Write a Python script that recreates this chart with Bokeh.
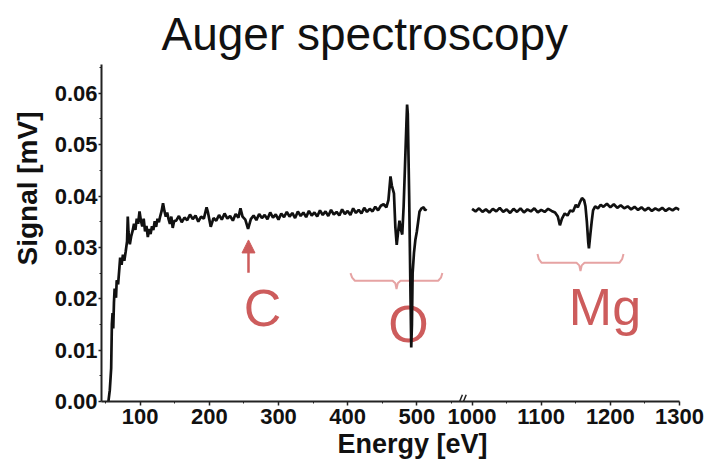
from bokeh.plotting import figure
from bokeh.models import (FixedTicker, Arrow, NormalHead, Range1d, Title,
                          NumeralTickFormatter)
from bokeh.core.properties import value
from bokeh.embed import file_html
from bokeh.resources import INLINE

# ---------------- data ----------------
energy = [
    54, 56, 58, 59, 60, 61, 62, 63, 65, 66, 68, 70, 71, 73, 75, 77, 79, 81, 82, 83,
    85, 87, 89, 91, 93, 95, 97, 99, 101, 103, 105, 107, 109, 111, 113, 115, 117, 119,
    121, 123, 125, 127, 129, 131, 133, 135, 137, 139, 141, 143, 145, 147, 149,
    152, 156, 160, 164, 168, 172, 176, 180, 184, 188, 192, 196, 198, 202, 206, 210,
    214, 218, 222, 226, 230, 234, 238, 242, 245, 248, 252, 256, 260, 264, 268, 272,
    276, 280, 284, 288, 292, 296, 300, 304, 308, 312, 316, 320, 324, 328, 332, 336,
    340, 344, 348, 352, 356, 360, 364, 368, 372, 376, 380, 384, 388, 392, 396, 400,
    404, 408, 412, 416, 420, 424, 428, 432, 436, 440, 444, 448, 452,
    456, 459, 462, 464, 467, 469, 471, 473, 475, 477, 479, 481, 483, 485, 486, 487,
    488, 489, 490, 491, 492, 493, 494, 496, 498, 500, 502, 504, 507, 510, 512, 514,
    1000, 1005, 1010, 1015, 1020, 1025, 1030, 1035, 1040, 1045, 1050, 1055, 1060,
    1065, 1070, 1075, 1080, 1085, 1090, 1095, 1100, 1105, 1110, 1115, 1120, 1124,
    1127, 1130, 1134, 1138, 1142, 1146, 1150, 1153, 1156, 1159, 1162, 1164, 1166,
    1168, 1169, 1171, 1173, 1175, 1178, 1182, 1186, 1190, 1195, 1200, 1205, 1210,
    1215, 1220, 1225, 1230, 1235, 1240, 1245, 1250, 1255, 1260, 1265, 1270, 1275,
    1280, 1285, 1290, 1295, 1300,
]
signal = [
    0.0000, 0.0022, 0.0065, 0.0150, 0.0172, 0.0142, 0.0192, 0.0220, 0.0202, 0.0236,
    0.0228, 0.0262, 0.0280, 0.0266, 0.0286, 0.0274, 0.0292, 0.0312, 0.0360, 0.0330,
    0.0306, 0.0322, 0.0332, 0.0346, 0.0334, 0.0356, 0.0346, 0.0370, 0.0352, 0.0341,
    0.0356, 0.0331, 0.0342, 0.0320, 0.0336, 0.0326, 0.0341, 0.0334, 0.0351, 0.0340,
    0.0356, 0.0349, 0.0361, 0.0371, 0.0386, 0.0371, 0.0360, 0.0368, 0.0355, 0.0346,
    0.0360, 0.0338, 0.0351,
    0.0352, 0.0361, 0.0349, 0.0358, 0.0353, 0.0364, 0.0355, 0.0362, 0.0350, 0.0360,
    0.0356, 0.0378, 0.0368, 0.0340, 0.0357, 0.0352, 0.0363, 0.0354, 0.0366, 0.0356,
    0.0361, 0.0352, 0.0365, 0.0358, 0.0376, 0.0360, 0.0354, 0.0336, 0.0355, 0.0362,
    0.0353, 0.0365, 0.0357, 0.0363, 0.0355, 0.0368, 0.0358, 0.0364, 0.0354, 0.0366,
    0.0359, 0.0369, 0.0360, 0.0367, 0.0357, 0.0370, 0.0361, 0.0368, 0.0359, 0.0371,
    0.0362, 0.0368, 0.0360, 0.0372, 0.0363, 0.0370, 0.0361, 0.0373, 0.0364, 0.0369,
    0.0362, 0.0374, 0.0365, 0.0371, 0.0363, 0.0376, 0.0367, 0.0373, 0.0366, 0.0377,
    0.0369, 0.0375, 0.0370, 0.0379, 0.0372, 0.0381, 0.0384,
    0.0378, 0.0392, 0.0438, 0.0420, 0.0405, 0.0340, 0.0305, 0.0330, 0.0352, 0.0335,
    0.0325, 0.0380, 0.0460, 0.0540, 0.0578, 0.0560, 0.0480, 0.0400, 0.0300, 0.0200,
    0.0105, 0.0150, 0.0250, 0.0290, 0.0315, 0.0330, 0.0350, 0.0370, 0.0376, 0.0378,
    0.0372, 0.0375,
    0.0375, 0.0370, 0.0376, 0.0369, 0.0374, 0.0368, 0.0375, 0.0370, 0.0377, 0.0369,
    0.0374, 0.0367, 0.0375, 0.0369, 0.0376, 0.0368, 0.0374, 0.0370, 0.0376, 0.0368,
    0.0373, 0.0369, 0.0375, 0.0371, 0.0368, 0.0360, 0.0343, 0.0356, 0.0366, 0.0362,
    0.0372, 0.0370, 0.0383, 0.0378, 0.0388, 0.0396, 0.0392, 0.0380, 0.0350, 0.0310,
    0.0298, 0.0325, 0.0350, 0.0372, 0.0380, 0.0376, 0.0383, 0.0379, 0.0385, 0.0378,
    0.0384, 0.0377, 0.0382, 0.0376, 0.0380, 0.0374, 0.0379, 0.0373, 0.0378, 0.0372,
    0.0377, 0.0371, 0.0376, 0.0372, 0.0377, 0.0371, 0.0376, 0.0372, 0.0377, 0.0373,
]

x_tick_values = [100, 200, 300, 400, 500, 1000, 1100, 1200, 1300]
x_minor_values = [50, 150, 250, 350, 450, 550, 1050, 1150, 1250]
y_tick_values = [0.00, 0.01, 0.02, 0.03, 0.04, 0.05, 0.06]
y_minor_values = [0.005, 0.015, 0.025, 0.035, 0.045, 0.055, 0.065]

title_text = "Auger spectroscopy"
x_label = "Energy [eV]"
y_label = "Signal [mV]"

# annotations (energy in eV, signal in mV)
peak_labels = ["C", "O", "Mg"]
peak_label_energy = [276.9, 488.0, 1192.2]
peak_label_signal = [0.01815, 0.01514, 0.01844]
arrow_energy = 256.6
arrow_signal = [0.02505, 0.03145]
o_brace_energy = [404.1, 406.5, 410.5, 465.0, 469.0, 470.7, 472.5, 476.5, 531.0, 535.0, 537.0]
o_brace_signal = [0.0250, 0.0241, 0.0235, 0.0235, 0.0230, 0.0219, 0.0230, 0.0235, 0.0235, 0.0241, 0.0250]
mg_brace_energy = [1094.6, 1096.6, 1100.6, 1151.0, 1155.0, 1156.8, 1158.6, 1162.6, 1213.0, 1217.0, 1219.0]
mg_brace_signal = [0.0287, 0.0277, 0.0270, 0.0270, 0.0265, 0.0254, 0.0265, 0.0270, 0.0270, 0.0277, 0.0287]
break_x0 = [562.0, 567.5]
break_x1 = [566.0, 571.5]
break_y = (0.0, 0.0013)

# ---------------- broken axis mapping ----------------
SEG2_START = 1000   # first energy of the second segment
SEG2_POS = 580      # where it sits on the compressed axis


def to_axis(e):
    return e if e < 800 else e - SEG2_START + SEG2_POS


RED = "#cd5c5c"
BRACE = "#e6a3a3"
FONT = "Liberation Sans"
INK = "#111111"

p = figure(width=715, height=467, output_backend="svg", toolbar_location=None,
           x_range=Range1d(44, 880), y_range=Range1d(0, 0.0656),
           min_border_left=101, min_border_right=36,
           min_border_top=63, min_border_bottom=66)
p.title.visible = False
p.outline_line_color = None
p.xgrid.visible = False
p.ygrid.visible = False
p.background_fill_color = "white"
p.border_fill_color = "white"

# axes
p.xaxis.ticker = FixedTicker(ticks=[to_axis(t) for t in x_tick_values],
                             minor_ticks=[to_axis(t) for t in x_minor_values])
p.xaxis.major_label_overrides = {to_axis(t): str(t) for t in x_tick_values}
p.yaxis.ticker = FixedTicker(ticks=y_tick_values, minor_ticks=y_minor_values)
p.yaxis.formatter = NumeralTickFormatter(format="0.00")
for ax in (p.xaxis[0], p.yaxis[0]):
    ax.axis_line_width = 2
    ax.axis_line_color = "#222222"
    ax.major_tick_line_color = "#222222"
    ax.minor_tick_line_color = "#222222"
    ax.major_tick_line_width = 1.5
    ax.major_tick_in = 0
    ax.minor_tick_in = 0
    ax.minor_tick_out = 2
    ax.major_label_text_font = FONT
    ax.major_label_text_font_style = "bold"
    ax.major_label_text_font_size = "22px"
    ax.major_label_text_color = INK
p.xaxis.major_tick_out = 4
p.xaxis.major_label_standoff = 3
p.yaxis.major_tick_out = 3
p.yaxis.major_label_standoff = 1

# title and axis titles as Title panels
p.add_layout(Title(text=title_text, text_font=FONT, text_font_size="46px",
                   text_font_style="normal", text_color=INK, align="left",
                   offset=60, standoff=10, vertical_align="bottom"), "above")
p.add_layout(Title(text=x_label, text_font=FONT, text_font_size="27px",
                   text_font_style="bold", text_color=INK, align="left",
                   offset=236, standoff=4, vertical_align="top"), "below")
p.add_layout(Title(text=y_label, text_font=FONT, text_font_size="28px",
                   text_font_style="bold", text_color=INK, align="left",
                   offset=136, standoff=16, vertical_align="middle"), "left")

# annotation texts under the data line
p.text(x=[to_axis(e) for e in peak_label_energy], y=peak_label_signal, text=peak_labels,
       text_font=value(FONT), text_font_size="52px", text_color=RED,
       text_align="center", text_baseline="middle")

# braces
p.line([to_axis(e) for e in o_brace_energy], o_brace_signal, line_color=BRACE, line_width=2)
p.line([to_axis(e) for e in mg_brace_energy], mg_brace_signal, line_color=BRACE, line_width=2)

# arrow for C
p.add_layout(Arrow(x_start=arrow_energy, y_start=arrow_signal[0],
                   x_end=arrow_energy, y_end=arrow_signal[1],
                   line_color=RED, line_width=2.5,
                   end=NormalHead(size=13, fill_color=RED, line_color=RED)))

# spectrum: two segments
seg1 = [(to_axis(e), s) for e, s in zip(energy, signal) if e < 800]
seg2 = [(to_axis(e), s) for e, s in zip(energy, signal) if e >= 800]
for seg in (seg1, seg2):
    p.line([a for a, _ in seg], [b for _, b in seg], line_color=INK, line_width=2.7)

# axis break marks
p.segment(x0=break_x0, y0=[break_y[0]] * 2, x1=break_x1, y1=[break_y[1]] * 2,
          line_color="#222222", line_width=1.5)

open("out.html", "w").write(file_html(p, INLINE))
